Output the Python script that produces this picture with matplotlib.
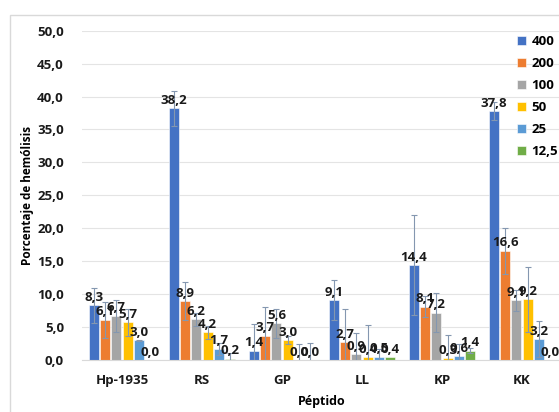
import matplotlib.pyplot as plt
import numpy as np
from matplotlib.patches import Rectangle

plt.rcParams['font.family'] = ['Open Sans', 'DejaVu Sans']

peptidos = ['Hp-1935', 'RS', 'GP', 'LL', 'KP', 'KK']
series = ['400', '200', '100', '50', '25', '12,5']
colores = ['#4472C4', '#ED7D31', '#A5A5A5', '#FFC000', '#5B9BD5', '#70AD47']

# valores por concentracion (una lista por serie, en orden de peptidos)
v400 = [8.3, 38.2, 1.4, 9.1, 14.4, 37.8]
v200 = [6.1, 8.9, 3.7, 2.7, 8.1, 16.6]
v100 = [6.7, 6.2, 5.6, 0.9, 7.2, 9.1]
v50 = [5.7, 4.2, 3.0, 0.4, 0.3, 9.2]
v25 = [3.0, 1.7, 0.0, 0.5, 0.6, 3.2]
v12 = [0.0, 0.2, 0.0, 0.4, 1.4, 0.0]

# desviaciones estandar
e400 = [2.7, 2.7, 4.1, 3.0, 7.6, 1.3]
e200 = [2.7, 2.9, 4.3, 5.1, 1.6, 3.5]
e100 = [2.4, 1.0, 2.2, 3.2, 2.9, 1.6]
e50 = [2.0, 1.0, 0.6, 4.9, 3.5, 4.9]
e25 = [0.1, 0.9, 2.4, 1.2, 1.8, 2.7]
e12 = [0.0, 0.8, 2.6, 0.0, 0.4, 0.0]

valores = [v400, v200, v100, v50, v25, v12]
errores = [e400, e200, e100, e50, e25, e12]

fig = plt.figure(figsize=(5.59, 4.12), dpi=100)
ax = fig.add_axes([82 / 559, 52 / 412, 480 / 559, 329.3 / 412])

# marco exterior del grafico
fig.patches.append(Rectangle((10 / 559, -0.01), 1.0, (412 - 15) / 412 + 0.01,
                             transform=fig.transFigure, fill=False,
                             edgecolor='#D9D9D9', linewidth=1))

x = np.arange(len(peptidos))
paso = 0.141
ancho = 0.125

handles = []
for i, (vals, errs) in enumerate(zip(valores, errores)):
    xs = x + (i - 2.5) * paso
    b = ax.bar(xs, vals, width=ancho, color=colores[i], edgecolor='white',
               linewidth=0.4, label=series[i], zorder=2)
    handles.append(b)
    errs = np.array(errs)
    m = errs > 0
    ax.errorbar(xs[m], np.array(vals)[m], yerr=errs[m], fmt='none',
                ecolor='#8497B0', elinewidth=0.8, capsize=2, capthick=0.8, zorder=3)
    for xi, v in zip(xs, vals):
        ax.annotate(f"{v:.1f}".replace('.', ','), (xi, v), xytext=(0, 1),
                    textcoords='offset points', ha='center', va='bottom',
                    fontsize=9.5, fontweight='bold', color='#1a1a1a', zorder=4)

ax.set_ylim(0, 50)
ax.set_xlim(-0.5, 5.5)
ax.set_yticks(np.arange(0, 51, 5))
ax.set_yticklabels([f"{t:.1f}".replace('.', ',') for t in np.arange(0, 51, 5)],
                   fontsize=9.5, fontweight='bold', color='#1a1a1a')
ax.set_xticks(x)
ax.set_xticklabels(peptidos, fontsize=9.5, fontweight='bold', color='#1a1a1a')
ax.tick_params(axis='both', length=0)
ax.tick_params(axis='y', pad=13)
ax.tick_params(axis='x', pad=10)
ax.grid(axis='y', color='#E4E4E4', linewidth=0.8, zorder=0)
ax.set_axisbelow(True)
for s in ['top', 'right', 'left']:
    ax.spines[s].set_visible(False)
ax.spines['bottom'].set_color('#D9D9D9')

ax.set_ylabel('Porcentaje de hemólisis', fontsize=8.5, fontweight='bold', labelpad=2)
ax.set_xlabel('Péptido', fontsize=9, fontweight='bold', labelpad=6)

fig.legend(handles=handles, labels=series, loc='upper left',
           bbox_to_anchor=(517 / 559, 1 - 35 / 412), frameon=False,
           borderaxespad=0, borderpad=0,
           prop={'weight': 'bold', 'size': 9.5}, handlelength=0.7,
           handleheight=0.7, handletextpad=0.4, labelspacing=0.68)

fig.savefig('out.png', dpi=100)
